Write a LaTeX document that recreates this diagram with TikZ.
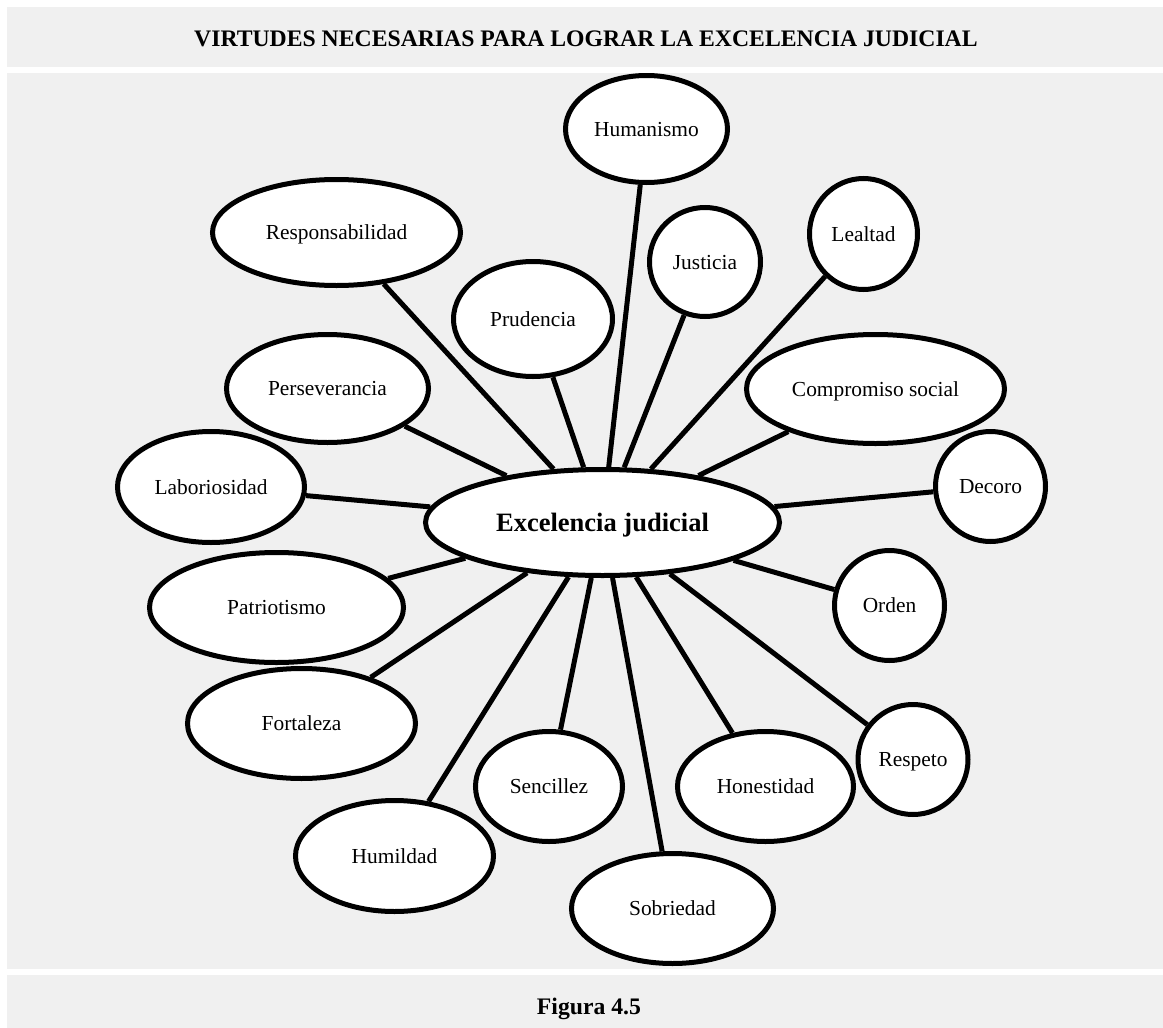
\documentclass[tikz,border=0pt]{standalone}
\usepackage{fontspec}
\setmainfont{Liberation Serif}
\usetikzlibrary{shapes.geometric}
\definecolor{panelgray}{HTML}{F0F0F0}
\tikzset{
  panel/.style={fill=panelgray, draw=none},
  virtue/.style={ellipse, draw=black, fill=white, line width=5pt, inner sep=0pt,
    text height=14.1pt, text depth=0pt, font=\fontsize{21.4}{24}\selectfont},
  hub/.style={virtue, text height=17.5pt, font=\fontsize{26.5}{30}\bfseries\selectfont},
  link/.style={draw=black, line width=5pt},
  caption/.style={font=\fontsize{23.7}{28}\bfseries\selectfont, anchor=base, inner sep=0pt}
}
\newcommand{\vnode}[6]{\node[virtue, minimum width=#4pt, minimum height=#5pt] (#1) at (#2,#3) {#6};}
\begin{document}
\begin{tikzpicture}[x=1pt, y=-1pt]
  \path[use as bounding box, fill=white] (0,0) rectangle (1163,1028);
  % panels
  \path[panel] (7,7) rectangle (1163,67);
  \path[panel] (7,73) rectangle (1163,969);
  \path[panel] (7,975) rectangle (1163,1028);
  \node[caption] (title) at (586,46) {VIRTUDES NECESARIAS PARA LOGRAR LA EXCELENCIA JUDICIAL};
  \node[caption] (fig) at (589,1014) {Figura 4.5};

  % hub
  \node[hub, minimum width=354pt, minimum height=106pt] (hub) at (602.5,522.5) {Excelencia judicial};

  % surrounding virtues: name, x, y, width, height, label
  \vnode{hum}{646.5}{129}{162}{107}{Humanismo}
  \vnode{res}{336.5}{232.5}{248}{106}{Responsabilidad}
  \vnode{jus}{705}{262}{111}{109}{Justicia}
  \vnode{lea}{863.5}{234}{108}{111}{Lealtad}
  \vnode{pru}{533}{319}{159}{115}{Prudencia}
  \vnode{per}{327.5}{388.5}{202}{108}{Perseverancia}
  \vnode{com}{875.5}{389}{258}{109}{Compromiso social}
  \vnode{lab}{211}{487}{187}{111}{Laboriosidad}
  \vnode{dec}{990.5}{486.5}{110}{110}{Decoro}
  \vnode{pat}{276.5}{607.5}{254}{110}{Patriotismo}
  \vnode{ord}{889.5}{605.5}{110}{110}{Orden}
  \vnode{fort}{301.5}{723.5}{228}{110}{Fortaleza}
  \vnode{sen}{549}{786.5}{147}{110}{Sencillez}
  \vnode{hon}{765.5}{786.5}{176}{110}{Honestidad}
  \vnode{resp}{913}{759.5}{110}{110}{Respeto}
  \vnode{humi}{394.5}{856}{198}{111}{Humildad}
  \vnode{sob}{672.5}{908.5}{202}{110}{Sobriedad}

  % spokes
  \foreach \v in {hum,res,jus,lea,pru,per,com,lab,dec,pat,ord,fort,sen,hon,resp,humi,sob}
    \draw[link] (hub) -- (\v);
\end{tikzpicture}
\end{document}
